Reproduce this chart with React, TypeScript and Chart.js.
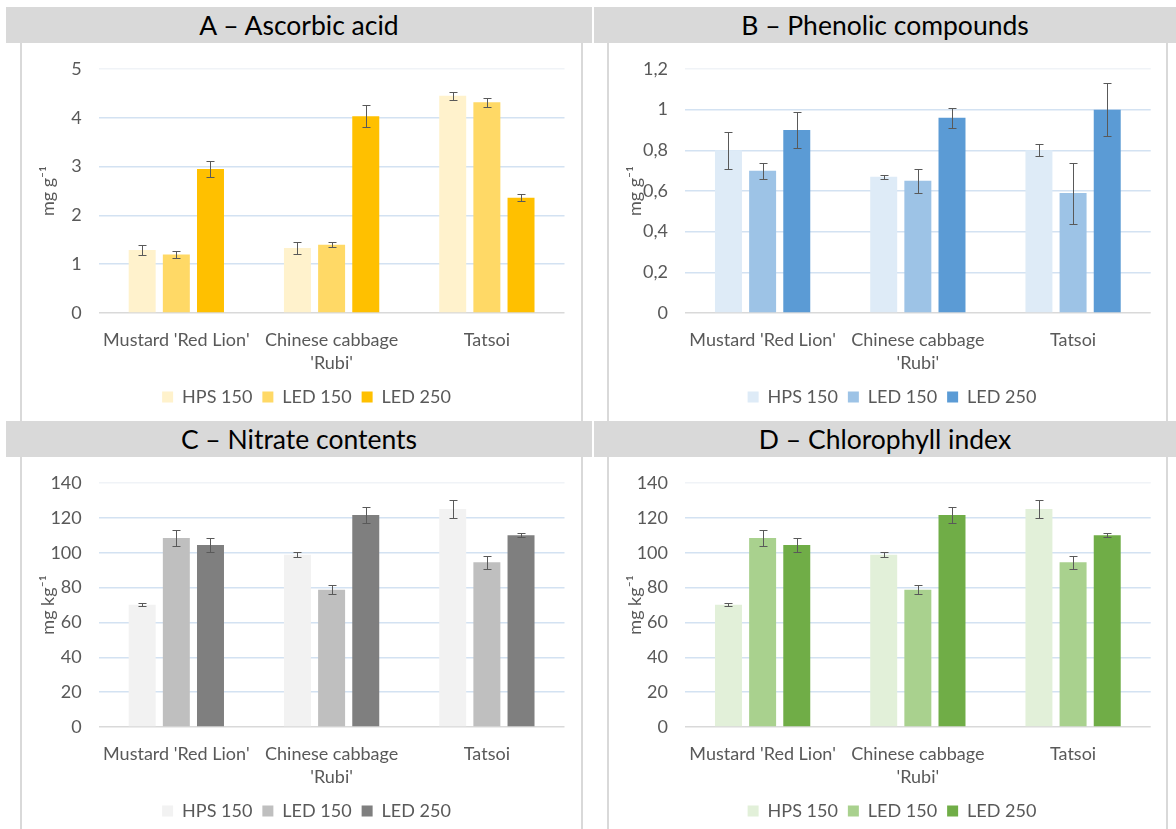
import React, { useEffect, useRef } from 'react';
import { Chart, registerables } from 'chart.js';

Chart.register(...registerables);

// ---------- data ----------
const categories = [["Mustard 'Red Lion'"], ['Chinese cabbage', "'Rubi'"], ['Tatsoi']];
const seriesNames = ['HPS 150', 'LED 150', 'LED 250'];

// A – Ascorbic acid (mg g-1)
const ascorbicHps = [1.29, 1.33, 4.45];
const ascorbicLed150 = [1.2, 1.4, 4.32];
const ascorbicLed250 = [2.95, 4.03, 2.36];
const ascorbicHpsErr = [0.11, 0.125, 0.08];
const ascorbicLed150Err = [0.08, 0.055, 0.095];
const ascorbicLed250Err = [0.17, 0.225, 0.07];
const ascorbicTicks = [0, 1, 2, 3, 4, 5];
const ascorbicTickLabels = ['0', '1', '2', '3', '4', '5'];

// B – Phenolic compounds (mg g-1)
const phenolicHps = [0.8, 0.67, 0.8];
const phenolicLed150 = [0.7, 0.65, 0.59];
const phenolicLed250 = [0.9, 0.96, 1.0];
const phenolicHpsErr = [0.09, 0.01, 0.03];
const phenolicLed150Err = [0.04, 0.06, 0.15];
const phenolicLed250Err = [0.09, 0.05, 0.13];
const phenolicTicks = [0, 0.2, 0.4, 0.6, 0.8, 1, 1.2];
const phenolicTickLabels = ['0', '0,2', '0,4', '0,6', '0,8', '1', '1,2'];

// C – Nitrate contents (mg kg-1)
const nitrateHps = [70.2, 98.9, 125.1];
const nitrateLed150 = [108.4, 78.8, 94.5];
const nitrateLed250 = [104.4, 121.6, 110.0];
const nitrateHpsErr = [1.05, 1.5, 4.9];
const nitrateLed150Err = [4.8, 2.7, 3.7];
const nitrateLed250Err = [3.9, 4.6, 1.15];

// D – Chlorophyll index (mg kg-1)
const chlorophyllHps = [70.2, 98.9, 125.1];
const chlorophyllLed150 = [108.4, 78.8, 94.5];
const chlorophyllLed250 = [104.4, 121.6, 110.0];
const chlorophyllHpsErr = [1.05, 1.5, 4.9];
const chlorophyllLed150Err = [4.8, 2.7, 3.7];
const chlorophyllLed250Err = [3.9, 4.6, 1.15];

const hundredTicks = [0, 20, 40, 60, 80, 100, 120, 140];
const hundredTickLabels = ['0', '20', '40', '60', '80', '100', '120', '140'];

const goldColors = ['#FFF2CC', '#FFD966', '#FFC000'];
const blueColors = ['#DEEBF7', '#9DC3E6', '#5B9BD5'];
const grayColors = ['#F2F2F2', '#BFBFBF', '#7F7F7F'];
const greenColors = ['#E2F0D9', '#A9D18E', '#70AD47'];

// ---------- chart helpers ----------
const FONT = 'Lato, "Open Sans", sans-serif';
const TEXT = '#595959';
const FS = 18;

const errorBarPlugin = {
  id: 'errorBars',
  afterDatasetsDraw(chart: any) {
    const ctx = chart.ctx;
    const yScale = chart.scales.y;
    ctx.save();
    ctx.strokeStyle = '#595959';
    ctx.lineWidth = 1;
    chart.data.datasets.forEach((ds: any, di: number) => {
      const meta = chart.getDatasetMeta(di);
      meta.data.forEach((bar: any, i: number) => {
        const v = ds.data[i];
        const e = ds.errors[i];
        const x = Math.round(bar.x) + 0.5;
        const yTop = Math.round(yScale.getPixelForValue(v + e)) + 0.5;
        const yBot = Math.round(yScale.getPixelForValue(v - e)) + 0.5;
        ctx.beginPath();
        ctx.moveTo(x, yTop);
        ctx.lineTo(x, yBot);
        ctx.moveTo(x - 4, yTop);
        ctx.lineTo(x + 4, yTop);
        ctx.moveTo(x - 4, yBot);
        ctx.lineTo(x + 4, yBot);
        ctx.stroke();
      });
    });
    ctx.restore();
  },
};

type Spec = {
  values: number[][];
  errors: number[][];
  colors: string[];
  ticks: number[];
  tickLabels: string[];
  yTitle: string;
  padLeft: number;
  padRight: number;
  yWidth: number;
  titlePad: number;
};

function ChartPanel({ spec, left, top, width, height }: { spec: Spec; left: number; top: number; width: number; height: number }) {
  const ref = useRef<HTMLCanvasElement | null>(null);
  useEffect(() => {
    if (!ref.current) return;
    const maxTick = spec.ticks[spec.ticks.length - 1];
    const chart = new Chart(ref.current, {
      type: 'bar',
      data: {
        labels: categories,
        datasets: seriesNames.map((name, i) => ({
          label: name,
          data: spec.values[i],
          errors: spec.errors[i],
          backgroundColor: spec.colors[i],
          borderWidth: 0,
          categoryPercentage: 0.66,
          barPercentage: 0.79,
        })) as any,
      },
      options: {
        responsive: false,
        animation: false,
        events: [],
        layout: { padding: { top: 26, left: spec.padLeft, right: spec.padRight, bottom: 5 } },
        scales: {
          x: {
            grid: { display: false, drawTicks: false },
            border: { display: false },
            ticks: {
              padding: 15.5,
              color: TEXT,
              font: { family: FONT, size: FS, lineHeight: 23 / FS },
              maxRotation: 0,
              autoSkip: false,
            },
            afterFit(s: any) {
              s.height = 65;
              s.paddingLeft = 0;
              s.paddingRight = 0;
            },
          },
          y: {
            min: 0,
            max: maxTick,
            afterBuildTicks(s: any) {
              s.ticks = spec.ticks.map((v) => ({ value: v }));
            },
            ticks: {
              padding: 17,
              color: TEXT,
              font: { family: FONT, size: FS },
              callback: (value: any) => {
                const idx = spec.ticks.findIndex((t) => Math.abs(t - Number(value)) < 1e-9);
                return idx >= 0 ? spec.tickLabels[idx] : '';
              },
            },
            grid: {
              drawTicks: false,
              lineWidth: 1.5,
              color: (c: any) => {
                const v = c.tick ? c.tick.value : 0;
                if (v === 0) return '#D9D9D9';
                if (Math.abs(v - maxTick) < 1e-9) return '#F0F3F7';
                return '#D3E2F2';
              },
            },
            border: { display: false },
            title: {
              display: true,
              text: spec.yTitle,
              color: TEXT,
              font: { family: FONT, size: FS },
              padding: { top: spec.titlePad, bottom: 0 },
            },
            afterFit(s: any) {
              s.width = spec.yWidth;
              s.paddingTop = 0;
              s.paddingBottom = 0;
            },
          },
        },
        plugins: {
          legend: {
            position: 'bottom',
            labels: {
              boxWidth: 11,
              boxHeight: 11,
              padding: 10,
              color: TEXT,
              font: { family: FONT, size: FS },
            },
          },
          tooltip: { enabled: false },
        },
      },
      plugins: [errorBarPlugin],
    } as any);
    return () => chart.destroy();
  }, [spec]);
  return (
    <canvas
      ref={ref}
      width={width}
      height={height}
      style={{ position: 'absolute', left, top, width, height }}
    />
  );
}

const specA: Spec = {
  values: [ascorbicHps, ascorbicLed150, ascorbicLed250],
  errors: [ascorbicHpsErr, ascorbicLed150Err, ascorbicLed250Err],
  colors: goldColors,
  ticks: ascorbicTicks,
  tickLabels: ascorbicTickLabels,
  yTitle: 'mg g⁻¹',
  padLeft: 26.5,
  padRight: 16.5,
  yWidth: 50.2,
  titlePad: -11.3,
};
const specB: Spec = {
  values: [phenolicHps, phenolicLed150, phenolicLed250],
  errors: [phenolicHpsErr, phenolicLed150Err, phenolicLed250Err],
  colors: blueColors,
  ticks: phenolicTicks,
  tickLabels: phenolicTickLabels,
  yTitle: 'mg g⁻¹',
  padLeft: 24.3,
  padRight: 15.3,
  yWidth: 51.7,
  titlePad: -9.1,
};
const specC: Spec = {
  values: [nitrateHps, nitrateLed150, nitrateLed250],
  errors: [nitrateHpsErr, nitrateLed150Err, nitrateLed250Err],
  colors: grayColors,
  ticks: hundredTicks,
  tickLabels: hundredTickLabels,
  yTitle: 'mg kg⁻¹',
  padLeft: 26.5,
  padRight: 16.5,
  yWidth: 50.2,
  titlePad: -11.3,
};
const specD: Spec = {
  values: [chlorophyllHps, chlorophyllLed150, chlorophyllLed250],
  errors: [chlorophyllHpsErr, chlorophyllLed150Err, chlorophyllLed250Err],
  colors: greenColors,
  ticks: hundredTicks,
  tickLabels: hundredTickLabels,
  yTitle: 'mg kg⁻¹',
  padLeft: 24.3,
  padRight: 15.3,
  yWidth: 51.7,
  titlePad: -9.1,
};

function TitleBar({ text, left, top, width }: { text: string; left: number; top: number; width: number }) {
  return (
    <div
      style={{
        position: 'absolute',
        left,
        top,
        width,
        height: 36,
        background: '#D9D9D9',
        display: 'flex',
        alignItems: 'center',
        justifyContent: 'center',
        fontFamily: FONT,
        fontSize: 26.5,
        color: '#000',
        whiteSpace: 'nowrap',
      }}
    >
      {text}
    </div>
  );
}

function Box({ left, top, width, height }: { left: number; top: number; width: number; height: number }) {
  return (
    <div
      style={{
        position: 'absolute',
        left,
        top,
        width,
        height,
        boxSizing: 'border-box',
        borderLeft: '2px solid #D9D9D9',
        borderRight: '2px solid #D9D9D9',
      }}
    />
  );
}

export default function App() {
  return (
    <div style={{ position: 'absolute', left: 0, top: 0, width: 1176, height: 829, background: '#fff', overflow: 'hidden' }}>
      <Box left={20} top={43} width={563} height={378} />
      <Box left={607} top={43} width={561} height={378} />
      <Box left={20} top={457} width={563} height={372} />
      <Box left={607} top={457} width={561} height={372} />
      <TitleBar text="A – Ascorbic acid" left={6} top={7} width={586} />
      <TitleBar text="B – Phenolic compounds" left={594} top={7} width={582} />
      <TitleBar text="C – Nitrate contents" left={6} top={421} width={586} />
      <TitleBar text="D – Chlorophyll index" left={594} top={421} width={582} />
      <ChartPanel spec={specA} left={22} top={43} width={559} height={378} />
      <ChartPanel spec={specB} left={609} top={43} width={557} height={378} />
      <ChartPanel spec={specC} left={22} top={457} width={559} height={378} />
      <ChartPanel spec={specD} left={609} top={457} width={557} height={378} />
    </div>
  );
}
